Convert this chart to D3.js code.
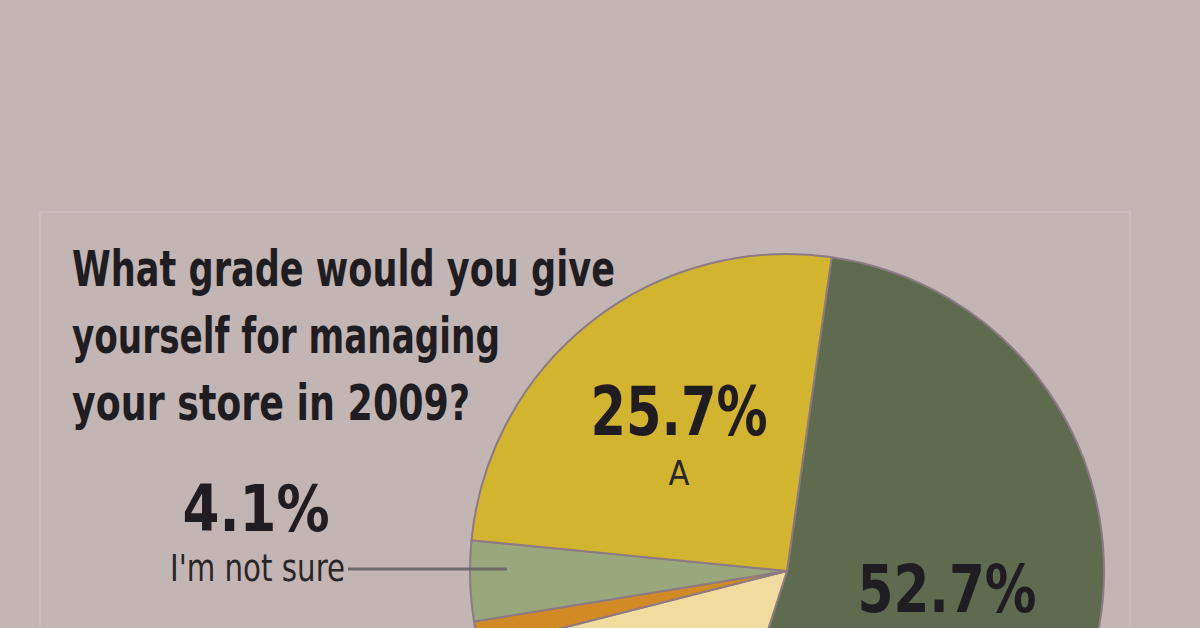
<!DOCTYPE html>
<html>
<head>
<meta charset="utf-8">
<script src="https://cdn.jsdelivr.net/npm/d3@7"></script>
<style>
  html, body { margin: 0; padding: 0; background: #c4b5b5; }
  svg { display: block; }
</style>
</head>
<body>
<div id="chart"></div>
<script>
// Chart data
var grades = ["B", "C", "D", "I'm not sure", "A"];
var shares = [52.7, 16.1, 1.4, 4.1, 25.7];
var shareLabels = ["52.7%", "16.1%", "1.4%", "4.1%", "25.7%"];
var titleLines = ["What grade would you give", "yourself for managing", "your store in 2009?"];

var width = 1200, height = 628;

// Pie layout
var cx = 787, cy = 571, radius = 317,
    startDeg = 8.1;

var color = d3.scaleOrdinal()
  .domain(grades)
  .range(["#5f6b4e", "#efdc9e", "#d28a24", "#98a77c", "#d3b42e"]);

var svg = d3.select("#chart")
  .append("svg")
    .attr("width", width)
    .attr("height", height);

svg.append("rect")
  .attr("width", width)
  .attr("height", height)
  .attr("fill", "#c4b5b5");

// faint panel outline
svg.append("rect")
  .attr("x", 40).attr("y", 212)
  .attr("width", 1090).attr("height", 500)
  .attr("fill", "none")
  .attr("stroke", "#cbbfbf")
  .attr("stroke-width", 1.5);

var fontStack = "'DejaVu Sans Condensed', 'Liberation Sans Narrow', sans-serif";

// Title
var titleWidths = [543, 428, 398];
svg.append("g")
  .attr("transform", "translate(72,0)")
  .selectAll("text")
  .data(titleLines)
  .enter().append("text")
    .attr("x", 0)
    .attr("y", (d, i) => 286 + i * 67)
    .attr("textLength", (d, i) => titleWidths[i])
    .attr("lengthAdjust", "spacingAndGlyphs")
    .style("font-family", fontStack)
    .style("font-weight", "bold")
    .style("font-size", "50px")
    .style("fill", "#1f1d22")
    .text(d => d);

var data = grades.map((g, i) => ({ grade: g, value: shares[i], label: shareLabels[i] }));

var pie = d3.pie()
  .sort(null)
  .value(d => d.value)
  .startAngle(startDeg * Math.PI / 180)
  .endAngle(startDeg * Math.PI / 180 + 2 * Math.PI);

var arc = d3.arc().innerRadius(0).outerRadius(radius);

var g = svg.append("g").attr("transform", "translate(" + cx + "," + cy + ")");

g.selectAll("path")
  .data(pie(data))
  .enter().append("path")
    .attr("d", arc)
    .attr("fill", d => color(d.data.grade))
    .attr("stroke", "#8c7a84")
    .attr("stroke-width", 2)
    .attr("stroke-linejoin", "round");

// Label placement (layout, keyed by grade); slices whose labels fall
// below the visible area are left out
var labelPos = {
  "A": { x: 679, y: 435, w: 177, size: 68, sub: { x: 679, y: 485, size: 34, anchor: "middle" } },
  "B": { x: 947, y: 612, w: 179, size: 66, sub: null },
  "I'm not sure": { x: 256, y: 531, w: 147, size: 64, sub: { x: 170, y: 581, size: 37, anchor: "start", w: 175 } }
};

data.forEach(function (d) {
  var p = labelPos[d.grade];
  if (!p) return;
  svg.append("text")
    .attr("x", p.x).attr("y", p.y)
    .attr("text-anchor", "middle")
    .attr("textLength", p.w)
    .attr("lengthAdjust", "spacingAndGlyphs")
    .style("font-family", fontStack)
    .style("font-weight", "bold")
    .style("font-size", p.size + "px")
    .style("fill", "#1f1d22")
    .text(d.label);

  if (!p.sub) return;
  var sub = svg.append("text")
    .attr("x", p.sub.x)
    .attr("y", p.sub.y)
    .attr("text-anchor", p.sub.anchor)
    .style("font-family", fontStack)
    .style("font-size", p.sub.size + "px")
    .style("fill", "#2a2628")
    .text(d.grade);
  if (p.sub.w) sub.attr("textLength", p.sub.w).attr("lengthAdjust", "spacingAndGlyphs");
});

// leader line for "I'm not sure"
svg.append("line")
  .attr("x1", 348).attr("y1", 569)
  .attr("x2", 507).attr("y2", 569)
  .attr("stroke", "#6e6a6a")
  .attr("stroke-width", 3);
</script>
</body>
</html>
